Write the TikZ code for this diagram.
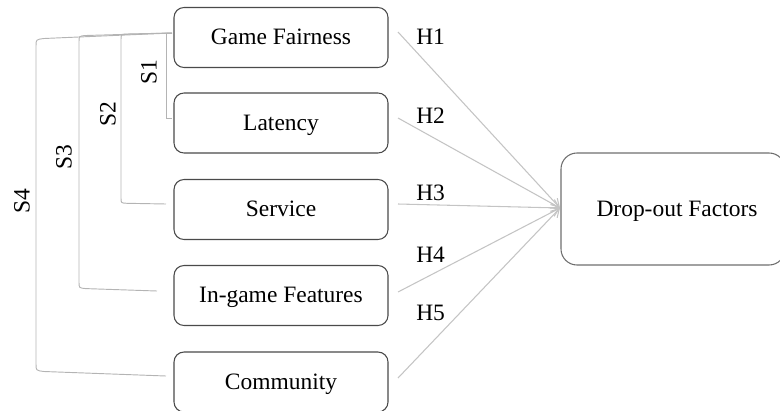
\documentclass[tikz,border=0pt]{standalone}
\usepackage{fontspec}
\setmainfont{Liberation Serif}
\usetikzlibrary{arrows.meta,calc}
\definecolor{boxline}{HTML}{4A4A4A}
\definecolor{arrline}{HTML}{C4C4C4}
\definecolor{brline}{HTML}{B4B4B4}
\tikzset{
  txt/.style={font=\fontsize{17.6}{19}\selectfont,text height=14pt,text depth=3.2pt},
  factor/.style={txt,draw=boxline,line width=0.8pt,rounded corners=7.5pt,minimum width=160.5pt,minimum height=45pt,inner sep=0pt},
  target/.style={draw=boxline!80,line width=0.8pt,rounded corners=12pt,minimum width=168pt,minimum height=84pt,inner sep=0pt},
  arr/.style={draw=arrline,line width=0.8pt,-{Straight Barb[length=6pt,width=7pt]}},
  bracket/.style={draw=brline,line width=0.7pt},
  lbl/.style={font=\fontsize{17.6}{19}\selectfont,inner sep=0pt},
}
\begin{document}
\begin{tikzpicture}[x=0.75pt,y=-0.75pt]
\useasboundingbox (0,0) rectangle (780,410);
\clip (0,0) rectangle (780,410);
% factor boxes
\node[factor] (gf)  at (281,37.5) {Game Fairness};
\node[factor] (lat) at (281,123)  {Latency};
\node[factor] (srv) at (281,209.5){Service};
\node[factor] (igf) at (281,295.5){In-game Features};
\node[factor] (com) at (281,382)  {Community};
% target box
\node[target] (drop) at (673,209) {};
\node[lbl,txt] (droplbl) at (677,209) {Drop-out Factors};
% arrow start points
\coordinate (a1) at (398,32);
\coordinate (a2) at (398,118);
\coordinate (a3) at (398,204);
\coordinate (a4) at (398,292);
\coordinate (a5) at (398,378);
\coordinate (tip) at (560,208);
\draw[arr] (a1) -- (tip);
\draw[arr] (a2) -- (tip);
\draw[arr] (a3) -- (tip);
\draw[arr] (a4) -- (tip);
\draw[arr] (a5) -- (tip);
% H labels
\node[lbl,anchor=base west] (h1) at (416,45)  {H1};
\node[lbl,anchor=base west] (h2) at (416,123) {H2};
\node[lbl,anchor=base west] (h3) at (416,200) {H3};
\node[lbl,anchor=base west] (h4) at (416,262) {H4};
\node[lbl,anchor=base west] (h5) at (416,320) {H5};
% bracket end points
\coordinate (b0) at (172,33);
\coordinate (b1) at (172,118);
\coordinate (b2) at (166,204);
\coordinate (b3) at (157,291);
\coordinate (b4) at (166,376);
% brackets
\draw[bracket] (b0) -- (166,33) -- (166,118) -- (b1);
\draw[bracket] (b0) -- (127,34) .. controls (121,34.3) .. (121,40) -- (121,198) .. controls (121,203) .. (127,203.3) -- (b2);
\draw[bracket] (b0) -- (86,35.5) .. controls (79,36) .. (79,42) -- (79,282) .. controls (79,288) .. (86,288.6) -- (b3);
\draw[bracket] (b0) -- (44,38.5) .. controls (36,39.5) .. (36,46) -- (36,364) .. controls (36,370.5) .. (44,371.5) -- (b4);
% S labels
\node[lbl,rotate=90] (s1) at (149,72)  {S1};
\node[lbl,rotate=90] (s2) at (108,114) {S2};
\node[lbl,rotate=90] (s3) at (64,157)  {S3};
\node[lbl,rotate=90] (s4) at (22,201)  {S4};
\end{tikzpicture}
\end{document}
